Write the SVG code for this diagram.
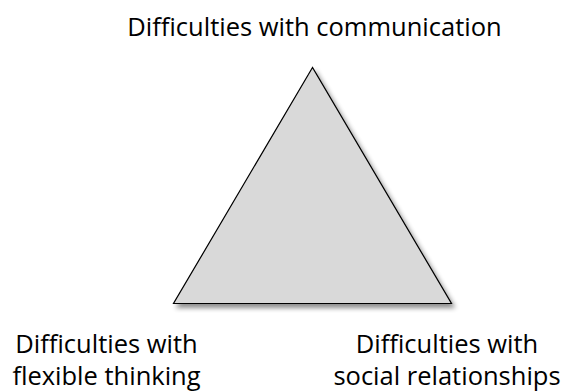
<svg xmlns="http://www.w3.org/2000/svg" width="579" height="392" viewBox="0 0 579 392">
  <style>
    .label { font-family: "Open Sans", "Liberation Sans", sans-serif; font-size: 25.5px; fill: #000; text-anchor: middle; }
    .tri { fill: #d9d9d9; stroke: #000; stroke-width: 1.2; stroke-linejoin: miter; }
  </style>
  <defs>
    <filter id="shadow" x="-20%" y="-20%" width="140%" height="140%">
      <feGaussianBlur in="SourceAlpha" stdDeviation="2.5"/>
      <feOffset dx="3" dy="4" result="off"/>
      <feComponentTransfer><feFuncA type="linear" slope="0.45"/></feComponentTransfer>
      <feMerge><feMergeNode/><feMergeNode in="SourceGraphic"/></feMerge>
    </filter>
  </defs>
  <rect width="579" height="392" fill="#fff"/>
  <g id="triangle">
    <polygon class="tri" filter="url(#shadow)" points="312.5,67.5 173.5,303.5 451.5,303.5"/>
  </g>
  <g id="top-label">
    <text class="label" x="314.5" y="36">Difficulties with communication</text>
  </g>
  <g id="left-label">
    <text class="label" x="106.5" y="353">Difficulties with</text>
    <text class="label" x="106.5" y="385">flexible thinking</text>
  </g>
  <g id="right-label">
    <text class="label" x="447" y="353">Difficulties with</text>
    <text class="label" x="447" y="385">social relationships</text>
  </g>
  <g id="connectors"/>
</svg>
